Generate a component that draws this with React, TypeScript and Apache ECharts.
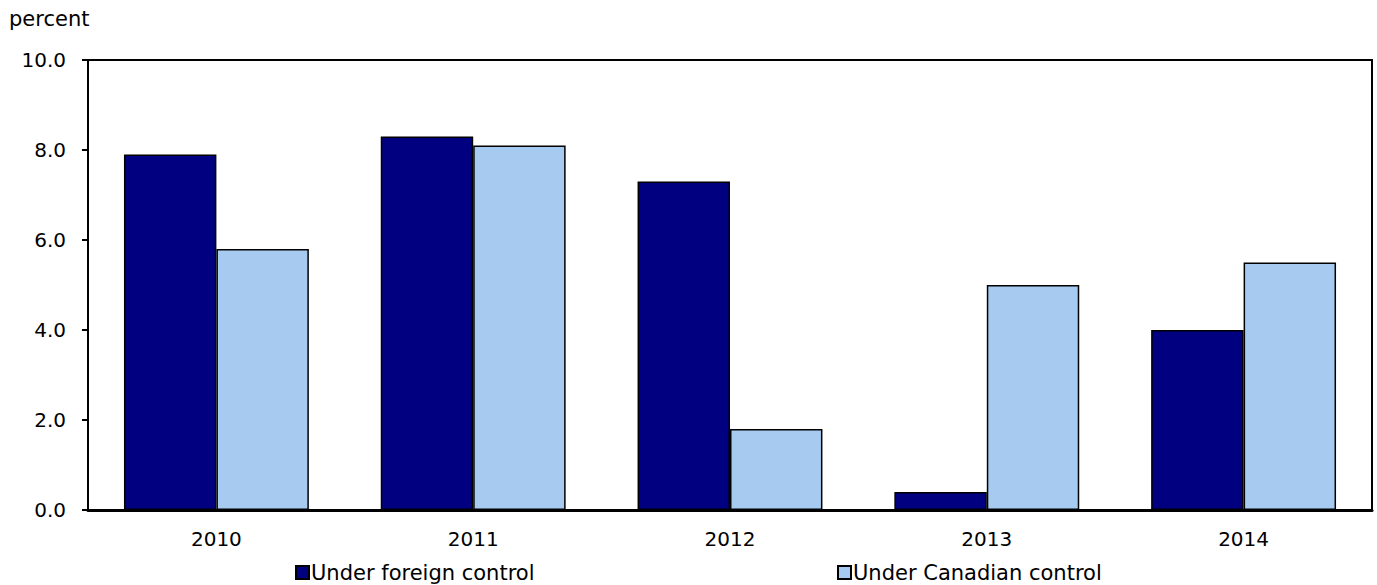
import React, { useEffect, useRef } from "react";
import * as echarts from "echarts";

const categories = ["2010", "2011", "2012", "2013", "2014"];
const foreignValues = [7.9, 8.3, 7.3, 0.4, 4.0];
const canadianValues = [5.8, 8.1, 1.8, 5.0, 5.5];
const seriesNames = ["Under foreign control", "Under Canadian control"];

const FONT = "'DejaVu Sans', Verdana, sans-serif";

export default function App() {
  const ref = useRef<HTMLDivElement>(null);
  useEffect(() => {
    if (!ref.current) return;
    const chart = echarts.init(ref.current, undefined, { renderer: "svg" });
    chart.setOption({
      animation: false,
      textStyle: { fontFamily: FONT, color: "#000" },
      title: {
        text: "percent",
        left: 4,
        top: 3,
        textStyle: { fontFamily: FONT, fontSize: 21, fontWeight: "normal", color: "#000" },
      },
      grid: {
        left: 88,
        right: 5,
        top: 60,
        bottom: 75,
        show: true,
        borderColor: "#000",
        borderWidth: 2,
      },
      legend: [
        {
          data: [seriesNames[0]],
          left: 290,
          top: 557,
          icon: "rect",
          itemWidth: 13,
          itemHeight: 13,
          itemGap: 4,
          textStyle: { fontFamily: FONT, fontSize: 21, color: "#000", padding: [0, 0, 0, -3] },
        },
        {
          data: [seriesNames[1]],
          left: 832,
          top: 557,
          icon: "rect",
          itemWidth: 13,
          itemHeight: 13,
          itemGap: 4,
          textStyle: { fontFamily: FONT, fontSize: 21, color: "#000", padding: [0, 0, 0, -3] },
        },
      ],
      xAxis: {
        type: "category",
        data: categories,
        axisLine: { show: true, lineStyle: { color: "#000", width: 3 } },
        axisTick: { show: false },
        axisLabel: { margin: 19, fontSize: 20, fontFamily: FONT, color: "#000" },
      },
      yAxis: {
        type: "value",
        min: 0,
        max: 10,
        interval: 2,
        axisLine: { show: true, lineStyle: { color: "#000", width: 2 } },
        axisTick: { show: true, length: 6, lineStyle: { color: "#000", width: 2 } },
        splitLine: { show: false },
        axisLabel: {
          margin: 22,
          fontSize: 20,
          fontFamily: FONT,
          color: "#000",
          formatter: (v: number) => v.toFixed(1),
        },
      },
      series: [
        {
          name: seriesNames[0],
          type: "bar",
          data: foreignValues,
          barGap: "0%",
          barCategoryGap: "28%",
          itemStyle: { color: "#000080", borderColor: "#000", borderWidth: 1.5 },
        },
        {
          name: seriesNames[1],
          type: "bar",
          data: canadianValues,
          barGap: "0%",
          barCategoryGap: "28%",
          itemStyle: { color: "#A6CAF0", borderColor: "#000", borderWidth: 1.5 },
        },
      ],
    });
    return () => chart.dispose();
  }, []);
  return <div ref={ref} style={{ width: 1377, height: 585, position: "absolute", left: 0, top: 0 }} />;
}
